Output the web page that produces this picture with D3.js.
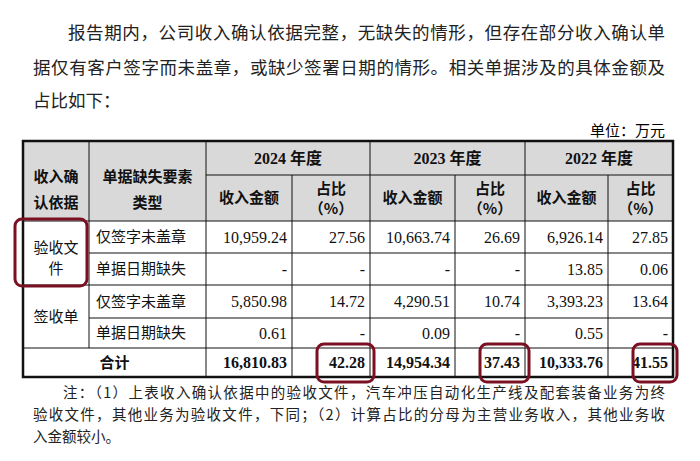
<!DOCTYPE html><html><head><meta charset="utf-8"><script src="https://d3js.org/d3.v7.min.js"></script>
<style>body{margin:0;background:#fff}</style></head><body><svg id="c" width="700" height="461"></svg>
<script>
const paragraph=["报告期内，公司收入确认依据完整，无缺失的情形，但存在部分收入确认单","据仅有客户签字而未盖章，或缺少签署日期的情形。相关单据涉及的具体金额及","占比如下："];
const unit="单位：万元";
const years=["2024 年度","2023 年度","2022 年度"];
const basis=["验收文件","签收单"];
const types=["仅签字未盖章","单据日期缺失","仅签字未盖章","单据日期缺失"];
const amounts=[["10,959.24","10,663.74","6,926.14"],["-","-","13.85"],["5,850.98","4,290.51","3,393.23"],["0.61","0.09","0.55"]];
const shares=[["27.56","26.69","27.85"],["-","-","0.06"],["14.72","10.74","13.64"],["-","-","-"]];
const totalAmt=["16,810.83","14,954.34","10,333.76"];
const totalShare=["42.28","37.43","41.55"];
const notes=["注：（1）上表收入确认依据中的验收文件，汽车冲压自动化生产线及配套装备业务为终","验收文件，其他业务为验收文件，下同；（2）计算占比的分母为主营业务收入，其他业务收","入金额较小。"];

const svg=d3.select("#c");
const cjk="'Noto Sans CJK SC',sans-serif", num="'Liberation Serif','Times New Roman',serif";
const colX=[23,89,206,292,370,455,525,608,673];
const x=d3.scaleOrdinal().domain(d3.range(9)).range(colX);
const rowY=[141,175,221,253,285,318,348,377];
const y=d3.scaleOrdinal().domain(d3.range(8)).range(rowY);
// paragraph
const pLines=[{t:paragraph[0],x:68,y:39,w:597},{t:paragraph[1],x:33,y:74,w:632},{t:paragraph[2],x:33,y:107}];
pLines.forEach(l=>{const e=svg.append("text").attr("x",l.x).attr("y",l.y).attr("font-family",cjk).attr("font-size",17.5).attr("fill","#222").text(l.t);if(l.w)e.attr("textLength",l.w).attr("lengthAdjust","spacing");});
svg.append("text").attr("x",665).attr("y",136).attr("text-anchor","end").attr("font-family",cjk).attr("font-size",15).text(unit);
// header bg
svg.append("rect").attr("x",x(0)).attr("y",y(0)).attr("width",x(8)-x(0)).attr("height",y(2)-y(0)).attr("fill","#d9d9d9");
const g=svg.append("g").attr("stroke","#111").attr("stroke-width",1);
const ln=(x1,y1,x2,y2,w)=>g.append("line").attr("x1",x1).attr("y1",y1).attr("x2",x2).attr("y2",y2).attr("stroke-width",w||1);
// horizontals
ln(x(2),y(1),x(8),y(1));
ln(x(0),y(2),x(8),y(2));
ln(x(1),y(3),x(8),y(3));
ln(x(0),y(4),x(8),y(4));
ln(x(1),y(5),x(8),y(5));
ln(x(0),y(6),x(8),y(6));
// verticals
ln(x(1),y(0),x(1),y(6));
[2,4,6].forEach(i=>ln(x(i),y(0),x(i),y(7)));
[3,5,7].forEach(i=>ln(x(i),y(1),x(i),y(7)));
svg.append("rect").attr("x",x(0)).attr("y",y(0)).attr("width",x(8)-x(0)).attr("height",y(7)-y(0)).attr("fill","none").attr("stroke","#111").attr("stroke-width",2.5);
const T=(t,cx,cy,o)=>{o=o||{};return svg.append("text").attr("x",cx).attr("y",cy).attr("dy","0.35em").attr("text-anchor",o.a||"middle").attr("font-family",o.f||cjk).attr("font-size",o.s||15).attr("font-weight",o.b?"bold":null).attr("fill","#111").text(t);};
// headers
T("收入确",(x(0)+x(1))/2,y(0)+36,{b:1});T("认依据",(x(0)+x(1))/2,y(0)+62,{b:1});
T("单据缺失要素",(x(1)+x(2))/2,y(0)+36,{b:1});T("类型",(x(1)+x(2))/2,y(0)+62,{b:1});
years.forEach((yr,i)=>{const a=x(2+2*i),b=x(4+2*i);T(yr,(a+b)/2,(y(0)+y(1))/2,{b:1,f:"'Liberation Serif','Noto Sans CJK SC',serif",s:16});
T("收入金额",(a+x(3+2*i))/2,(y(1)+y(2))/2,{b:1});
T("占比",(x(3+2*i)+b)/2,y(1)+14,{b:1});T("（%）",(x(3+2*i)+b)/2,y(1)+34,{b:1});});
// body
T("验收文",(x(0)+x(1))/2,y(2)+27);T("件",(x(0)+x(1))/2,y(2)+48);
T(basis[1],(x(0)+x(1))/2,(y(4)+y(6))/2);
types.forEach((t,r)=>{const cy=(y(2+r)+y(3+r))/2;T(t,x(1)+7,cy,{a:"start"});
 years.forEach((_,i)=>{T(amounts[r][i],x(3+2*i)-5,cy,{a:"end",f:num,s:16});T(shares[r][i],x(4+2*i)-5,cy,{a:"end",f:num,s:16});});});
const ty=(y(6)+y(7))/2;
T("合计",(x(0)+x(2))/2,ty,{b:1});
years.forEach((_,i)=>{T(totalAmt[i],x(3+2*i)-5,ty,{a:"end",f:num,s:16,b:1});T(totalShare[i],x(4+2*i)-5,ty,{a:"end",f:num,s:16,b:1});});
// highlights
const red="#7a1022";
const hl=(x1,y1,x2,y2)=>svg.append("rect").attr("x",x1).attr("y",y1).attr("width",x2-x1).attr("height",y2-y1).attr("rx",7).attr("fill","none").attr("stroke",red).attr("stroke-width",3);
hl(15,x(0)?219:219,87,286);
years.forEach((_,i)=>hl(x(3+2*i)+25,y(6)-4,x(4+2*i)+4,y(7)+5));
// notes
const nl=[{t:notes[0],x:63,y:398,w:602},{t:notes[1],x:33,y:420,w:632},{t:notes[2],x:33,y:442}];
nl.forEach(l=>{const e=svg.append("text").attr("x",l.x).attr("y",l.y).attr("font-family",cjk).attr("font-size",14.5).attr("fill","#222").text(l.t);if(l.w)e.attr("textLength",l.w).attr("lengthAdjust","spacing");});
</script></body></html>
